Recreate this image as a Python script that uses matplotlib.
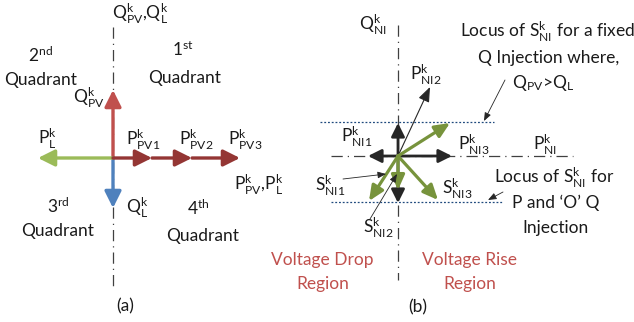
import matplotlib
matplotlib.use("Agg")
import matplotlib.pyplot as plt

plt.rcParams['font.family'] = ['Lato', 'DejaVu Sans']
plt.rcParams['mathtext.fontset'] = 'custom'
plt.rcParams['mathtext.rm'] = 'Lato'
plt.rcParams['mathtext.it'] = 'Lato:italic'

# ---- panel (a) data (pixel coordinates of the diagram) ----
origin_a = (113, 158)
q_pv_tip = (113, 90)
q_l_tip = (113, 208)
p_l_tip = (38, 158)
p_pv_tips = [(152, 158), (192, 158), (240, 158)]

# ---- panel (b) data ----
origin_b = (398, 156)
black_tips = [(398, 123), (368, 156), (452, 156), (398, 203)]
p_ni2_tip = (430, 87)
green_tips = [(450, 123), (369, 201), (438, 200), (398, 190)]
locus_upper_y = 122
locus_lower_y = 202

RED = '#c0504d'
DRED = '#943634'
BLUE = '#4f81bd'
GREEN = '#77933c'
LGREEN = '#9bbb59'
BLACK = '#262626'
TXT = '#1a1a1a'

fig = plt.figure(figsize=(6.34, 3.22), dpi=100)
ax = fig.add_axes([0, 0, 1, 1])
ax.set_xlim(0, 634)
ax.set_ylim(322, 0)
ax.axis('off')

dashdot = (0, (9, 4, 1, 4))


def arrow(start, tip, color, lw=2.4, hl=1.0, hw=0.5):
    ax.annotate('', xy=tip, xytext=start,
                arrowprops=dict(arrowstyle=f'-|>,head_length={hl},head_width={hw}',
                                lw=lw, color=color, shrinkA=0, shrinkB=0))


def lab(base, sup, sub):
    return base + r'$^{\mathrm{' + sup + r'}}_{\mathrm{' + sub + r'}}$'


fs = 12.5

# ---- panel (a) ----
ax.plot([113, 113], [27, 286], color='#404040', lw=0.9, linestyle=dashdot)
arrow(origin_a, q_pv_tip, RED)
arrow(origin_a, q_l_tip, BLUE)
arrow(origin_a, p_l_tip, LGREEN)
prev = origin_a
for t in p_pv_tips:
    arrow(prev, t, DRED)
    prev = t

ax.text(140, 14, lab('Q', 'k', 'PV') + ',' + lab('Q', 'k', 'L'), fontsize=fs, ha='center', va='center', color=TXT)
ax.text(40, 55, r'2$^{\mathrm{nd}}$', fontsize=fs, ha='center', va='center', color=TXT)
ax.text(41, 80, 'Quadrant', fontsize=fs, ha='center', va='center', color=TXT)
ax.text(183, 50, r'1$^{\mathrm{st}}$', fontsize=fs, ha='center', va='center', color=TXT)
ax.text(185, 78, 'Quadrant', fontsize=fs, ha='center', va='center', color=TXT)
ax.text(89, 98, lab('Q', 'k', 'PV'), fontsize=fs, ha='center', va='center', color=TXT)
ax.text(47, 139, lab('P', 'k', 'L'), fontsize=fs, ha='center', va='center', color=TXT)
for x, s in zip([143, 196, 245], ['PV1', 'PV2', 'PV3']):
    ax.text(x, 140, lab('P', 'k', s), fontsize=fs, ha='center', va='center', color=TXT)
ax.text(259, 185, lab('P', 'k', 'PV') + ',' + lab('P', 'k', 'L'), fontsize=fs, ha='center', va='center', color=TXT)
ax.text(58, 206, r'3$^{\mathrm{rd}}$', fontsize=fs, ha='center', va='center', color=TXT)
ax.text(58, 231, 'Quadrant', fontsize=fs, ha='center', va='center', color=TXT)
ax.text(137, 208, lab('Q', 'k', 'L'), fontsize=fs, ha='center', va='center', color=TXT)
ax.text(198, 208, r'4$^{\mathrm{th}}$', fontsize=fs, ha='center', va='center', color=TXT)
ax.text(203, 236, 'Quadrant', fontsize=fs, ha='center', va='center', color=TXT)
ax.text(125, 306, '(a)', fontsize=fs, ha='center', va='center', color=TXT)

# ---- panel (b) ----
ax.plot([398, 398], [25, 280], color='#404040', lw=0.9, linestyle=dashdot)
ax.plot([331, 573], [156, 156], color='#404040', lw=0.9, linestyle=dashdot)
ax.plot([320, 494], [locus_upper_y, locus_upper_y], color='#1f497d', lw=0.9, linestyle=(0, (1.5, 1.5)))
ax.plot([331, 503], [locus_lower_y, locus_lower_y], color='#1f497d', lw=0.9, linestyle=(0, (1.5, 1.5)))

for t in black_tips:
    arrow(origin_b, t, BLACK, lw=2.0, hl=0.8, hw=0.4)
arrow(origin_b, p_ni2_tip, BLACK, lw=0.8, hl=0.9, hw=0.35)
for t in green_tips:
    arrow(origin_b, t, GREEN, lw=2.3, hl=0.9, hw=0.4)

# leader arrows
arrow((343, 179), (386, 174), BLACK, lw=0.6, hl=0.5, hw=0.2)
arrow((370, 219), (397, 174), BLACK, lw=0.6, hl=0.5, hw=0.2)
arrow((505, 80), (484, 121), BLACK, lw=0.6, hl=0.5, hw=0.2)
arrow((503, 192), (488, 200), BLACK, lw=0.6, hl=0.5, hw=0.2)

ax.text(373, 25, lab('Q', 'k', 'NI'), fontsize=fs, ha='center', va='center', color=TXT)
ax.text(547, 32, 'Locus of ' + lab('S', 'k', 'NI') + ' for a fixed', fontsize=fs, ha='center', va='center', color=TXT)
ax.text(549, 58, 'Q Injection where,', fontsize=fs, ha='center', va='center', color=TXT)
ax.text(543, 83, r'Q$_{\mathrm{PV}}$>Q$_{\mathrm{L}}$', fontsize=fs, ha='center', va='center', color=TXT)
ax.text(426, 75, lab('P', 'k', 'NI2'), fontsize=fs, ha='center', va='center', color=TXT)
ax.text(357, 137, lab('P', 'k', 'NI1'), fontsize=fs, ha='center', va='center', color=TXT)
ax.text(474, 145, lab('P', 'k', 'NI3'), fontsize=fs, ha='center', va='center', color=TXT)
ax.text(545, 145, lab('P', 'k', 'NI'), fontsize=fs, ha='center', va='center', color=TXT)
ax.text(554, 178, 'Locus of ' + lab('S', 'k', 'NI') + ' for', fontsize=fs, ha='center', va='center', color=TXT)
ax.text(556, 203, 'P and \u2018O\u2019 Q', fontsize=fs, ha='center', va='center', color=TXT)
ax.text(555, 228, 'Injection', fontsize=fs, ha='center', va='center', color=TXT)
ax.text(457, 189, lab('S', 'k', 'NI3'), fontsize=fs, ha='center', va='center', color=TXT)
ax.text(330, 186, lab('S', 'k', 'NI1'), fontsize=fs, ha='center', va='center', color=TXT)
ax.text(378, 228, lab('S', 'k', 'NI2'), fontsize=fs, ha='center', va='center', color=TXT)
ax.text(322, 260, 'Voltage Drop', fontsize=fs, ha='center', va='center', color=RED)
ax.text(323, 284, 'Region', fontsize=fs, ha='center', va='center', color=RED)
ax.text(470, 260, 'Voltage Rise', fontsize=fs, ha='center', va='center', color=RED)
ax.text(470, 284, 'Region', fontsize=fs, ha='center', va='center', color=RED)
ax.text(418, 307, '(b)', fontsize=fs, ha='center', va='center', color=TXT)

fig.savefig('out.png', dpi=100)
